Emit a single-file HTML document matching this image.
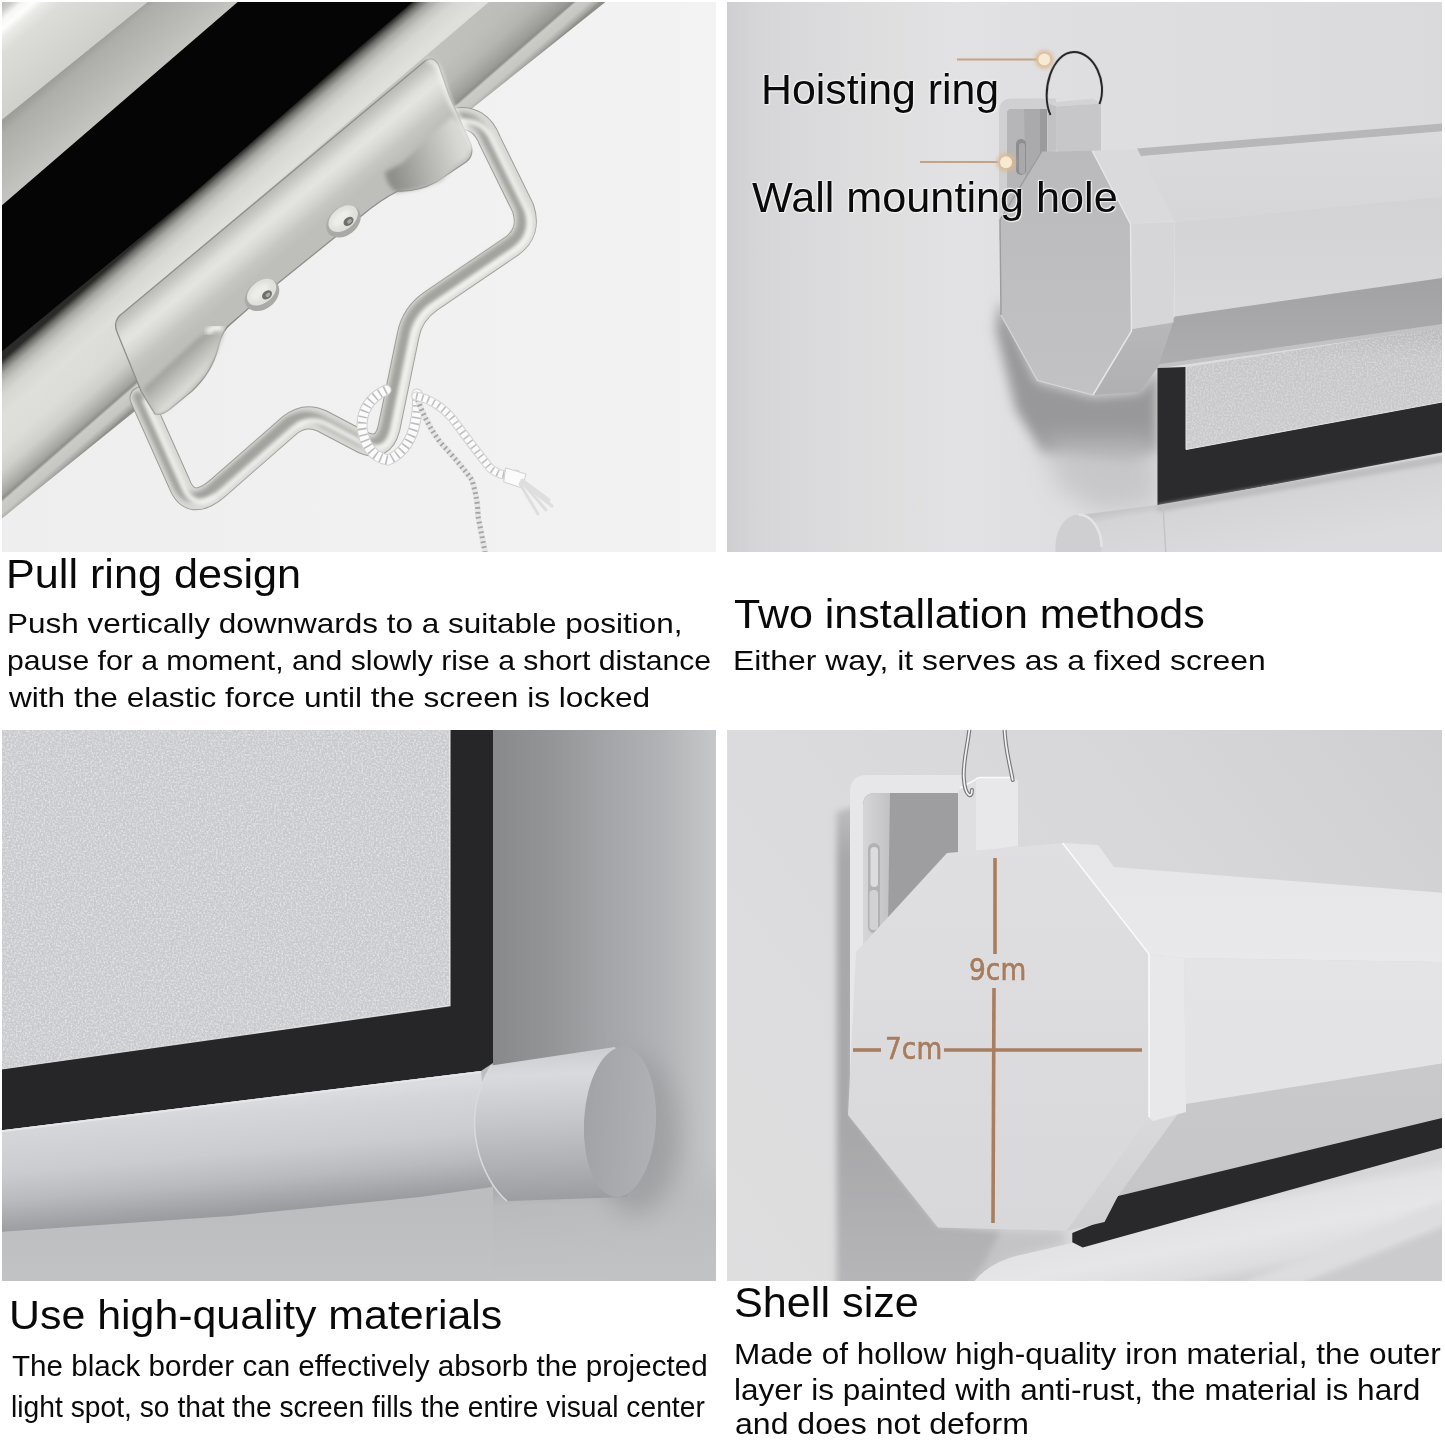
<!DOCTYPE html>
<html><head><meta charset="utf-8">
<style>
html,body{margin:0;padding:0;background:#fff;}
body{width:1445px;height:1445px;position:relative;overflow:hidden;font-family:"Liberation Sans",Arial,sans-serif;color:#0a0a0a;}
svg{position:absolute;left:0;top:0;}
.t{position:absolute;white-space:nowrap;transform-origin:0 0;line-height:1;}
.halo{text-shadow:0 0 2px #f4f4f4,0 0 2px #f4f4f4,1px 1px 1px #f0f0f0,-1px -1px 1px #f0f0f0;}
.dim{font-family:"DejaVu Sans","Liberation Sans",sans-serif;-webkit-text-stroke:.6px #a2785a;text-shadow:0 0 2px #efe6de;}
</style></head><body>
<svg width="1445" height="1445" viewBox="0 0 1445 1445">
<defs>
<clipPath id="c1"><rect x="2" y="2" width="714" height="550"/></clipPath>
<clipPath id="c2"><rect x="727" y="2" width="715" height="550"/></clipPath>
<clipPath id="c3"><rect x="2" y="730" width="714" height="551"/></clipPath>
<clipPath id="c4"><rect x="727" y="730" width="715" height="551"/></clipPath>
<filter id="bl2" x="-20%" y="-20%" width="140%" height="140%"><feGaussianBlur stdDeviation="2"/></filter>
<filter id="bl3" x="-20%" y="-20%" width="140%" height="140%"><feGaussianBlur stdDeviation="3"/></filter>
<filter id="bl6" x="-30%" y="-30%" width="160%" height="160%"><feGaussianBlur stdDeviation="6"/></filter>
<filter id="bl12" x="-40%" y="-40%" width="180%" height="180%"><feGaussianBlur stdDeviation="12"/></filter>
<linearGradient id="p1bg" x1="0" y1="0" x2="1" y2="0"><stop offset="0" stop-color="#eeeeee"/><stop offset="1" stop-color="#f3f3f3"/></linearGradient>
<linearGradient id="p1a" gradientUnits="userSpaceOnUse" x1="0" y1="0" x2="62" y2="72"><stop offset="0" stop-color="#b2b2ae"/><stop offset=".1" stop-color="#cdcdc9"/><stop offset=".17" stop-color="#f6f6f4"/><stop offset=".25" stop-color="#fdfdfc"/><stop offset=".32" stop-color="#eaeae7"/><stop offset=".45" stop-color="#dcdcd8"/><stop offset="1" stop-color="#cfcfcb"/></linearGradient>
<linearGradient id="p1b" gradientUnits="userSpaceOnUse" x1="62" y1="72" x2="110" y2="128"><stop offset="0" stop-color="#9e9e9a"/><stop offset=".12" stop-color="#adada9"/><stop offset=".6" stop-color="#bcbcb8"/><stop offset="1" stop-color="#cacac6"/></linearGradient>
<linearGradient id="p1bar" gradientUnits="userSpaceOnUse" x1="187" y1="199" x2="268" y2="292"><stop offset="0" stop-color="#2a2a28"/><stop offset="0.04" stop-color="#6e6e6a"/><stop offset="0.09" stop-color="#a6a6a2"/><stop offset="0.15" stop-color="#c4c4c0"/><stop offset="0.22" stop-color="#d6d6d2"/><stop offset="0.35" stop-color="#dfdfdb"/><stop offset="0.55" stop-color="#dcdcd8"/><stop offset="0.68" stop-color="#cfcfcb"/><stop offset="0.76" stop-color="#b8b8b4"/><stop offset="0.82" stop-color="#a4a4a0"/><stop offset="0.85" stop-color="#8e8e8a"/><stop offset="0.87" stop-color="#cbcbc7"/><stop offset="0.94" stop-color="#c6c6c2"/><stop offset="0.98" stop-color="#a6a6a2"/><stop offset="1" stop-color="#8e8e8a"/></linearGradient>
<linearGradient id="p1plate" gradientUnits="userSpaceOnUse" x1="270" y1="190" x2="307" y2="234.5"><stop offset="0" stop-color="#b8b8b4"/><stop offset="0.12" stop-color="#c6c6c2"/><stop offset="0.3" stop-color="#dededa"/><stop offset="0.42" stop-color="#e4e4e1"/><stop offset="0.6" stop-color="#d8d8d4"/><stop offset="0.8" stop-color="#c6c6c2"/><stop offset="1" stop-color="#bebeba"/></linearGradient>
<linearGradient id="p1pocket" gradientUnits="userSpaceOnUse" x1="392" y1="168" x2="462" y2="150"><stop offset="0" stop-color="#8f8f8b"/><stop offset=".45" stop-color="#b2b2ae"/><stop offset="1" stop-color="#d9d9d5"/></linearGradient>
<linearGradient id="p1pocket2" gradientUnits="userSpaceOnUse" x1="168" y1="362" x2="190" y2="386"><stop offset="0" stop-color="#989894"/><stop offset=".5" stop-color="#bcbcb8"/><stop offset="1" stop-color="#dcdcd8"/></linearGradient>
<linearGradient id="p2bg" gradientUnits="userSpaceOnUse" x1="727" y1="0" x2="1445" y2="0"><stop offset="0" stop-color="#cfcfd1"/><stop offset=".045" stop-color="#d6d6d8"/><stop offset=".1" stop-color="#d9d9db"/><stop offset=".21" stop-color="#dededf"/><stop offset=".32" stop-color="#e2e2e4"/><stop offset=".45" stop-color="#dfdfe1"/><stop offset="1" stop-color="#dadadc"/></linearGradient>
<linearGradient id="p2ub" x1="0" y1="0" x2="0" y2="1"><stop offset="0" stop-color="#dbdbdd"/><stop offset="1" stop-color="#d6d6d8"/></linearGradient>
<linearGradient id="p2ff" x1="0" y1="0" x2="0" y2="1"><stop offset="0" stop-color="#d3d3d5"/><stop offset="1" stop-color="#d8d8da"/></linearGradient>
<linearGradient id="p2lb" x1="0" y1="0" x2="0" y2="1"><stop offset="0" stop-color="#a2a2a4"/><stop offset="1" stop-color="#aeaeb0"/></linearGradient>
<linearGradient id="p2lr" x1="0" y1="0" x2="0" y2="1"><stop offset="0" stop-color="#b8b8ba"/><stop offset="1" stop-color="#b0b0b2"/></linearGradient>
<linearGradient id="p2face" x1="0" y1="0" x2="0" y2="1"><stop offset="0" stop-color="#bababc"/><stop offset="1" stop-color="#c2c2c4"/></linearGradient>
<linearGradient id="p2scr" x1="0" y1="0" x2="0" y2="1"><stop offset="0" stop-color="#b9b9bb"/><stop offset="0.25" stop-color="#c6c6c8"/><stop offset="1" stop-color="#cacacc"/></linearGradient>
<linearGradient id="p2bar" gradientUnits="userSpaceOnUse" x1="1250" y1="488" x2="1262" y2="556"><stop offset="0" stop-color="#c6c6c8"/><stop offset="0.12" stop-color="#d4d4d6"/><stop offset="1" stop-color="#dcdcde"/></linearGradient>
<filter id="noise" x="0" y="0" width="100%" height="100%"><feTurbulence type="fractalNoise" baseFrequency="0.55" numOctaves="2" seed="3" result="n"/><feColorMatrix in="n" type="matrix" values="0 0 0 0 1  0 0 0 0 1  0 0 0 0 1  2.6 0 0 0 -1.0"/><feComposite operator="in" in2="SourceGraphic"/></filter>
<linearGradient id="p3wall" gradientUnits="userSpaceOnUse" x1="493" y1="0" x2="716" y2="0"><stop offset="0" stop-color="#88898b"/><stop offset=".25" stop-color="#939496"/><stop offset=".5" stop-color="#a3a4a7"/><stop offset=".75" stop-color="#b1b2b5"/><stop offset=".9" stop-color="#bebfc1"/><stop offset="1" stop-color="#c6c7c9"/></linearGradient>
<linearGradient id="p3below" gradientUnits="userSpaceOnUse" x1="0" y1="1150" x2="0" y2="1282"><stop offset="0" stop-color="#bcbdbf" stop-opacity="0"/><stop offset=".42" stop-color="#bcbdbf" stop-opacity=".95"/><stop offset="1" stop-color="#c2c3c5" stop-opacity="1"/></linearGradient>
<linearGradient id="p3bar" gradientUnits="userSpaceOnUse" x1="240" y1="1101" x2="250" y2="1214"><stop offset="0" stop-color="#dbdcdf"/><stop offset="0.1" stop-color="#d5d6d9"/><stop offset="0.45" stop-color="#cbccd0"/><stop offset="0.7" stop-color="#b9babd"/><stop offset="0.9" stop-color="#a3a4a7"/><stop offset="1" stop-color="#999a9d"/></linearGradient>
<linearGradient id="p3cap" gradientUnits="userSpaceOnUse" x1="550" y1="1052" x2="556" y2="1200"><stop offset="0" stop-color="#cdced1"/><stop offset=".15" stop-color="#d9dadd"/><stop offset=".45" stop-color="#c6c7ca"/><stop offset=".75" stop-color="#b0b1b4"/><stop offset="1" stop-color="#9c9da0"/></linearGradient>
<linearGradient id="p3face" x1="0" y1="0" x2="1" y2="0"><stop offset="0" stop-color="#a2a3a6"/><stop offset="1" stop-color="#b0b1b4"/></linearGradient>
<linearGradient id="p4bg" gradientUnits="userSpaceOnUse" x1="727" y1="1284" x2="1445" y2="728"><stop offset="0" stop-color="#dededf"/><stop offset="0.3" stop-color="#dcdcde"/><stop offset="0.7" stop-color="#d7d7d9"/><stop offset="1" stop-color="#cfcfd1"/></linearGradient>
<linearGradient id="p4bar" gradientUnits="userSpaceOnUse" x1="1200" y1="1205" x2="1215" y2="1284"><stop offset="0" stop-color="#d6d6d8"/><stop offset="0.15" stop-color="#e2e2e4"/><stop offset="0.5" stop-color="#e6e6e8"/><stop offset="0.85" stop-color="#dddddf"/><stop offset="1" stop-color="#d0d0d2"/></linearGradient>
<linearGradient id="p4brin" x1="0" y1="0" x2="1" y2="0"><stop offset="0" stop-color="#d6d6d8"/><stop offset="1" stop-color="#c2c2c4"/></linearGradient>
<linearGradient id="p4ub" x1="0" y1="0" x2="0" y2="1"><stop offset="0" stop-color="#e6e6e8"/><stop offset="1" stop-color="#e9e9eb"/></linearGradient>
<linearGradient id="p4ff" x1="0" y1="0" x2="0" y2="1"><stop offset="0" stop-color="#e4e4e6"/><stop offset="1" stop-color="#e3e3e5"/></linearGradient>
<linearGradient id="p4lb" x1="0" y1="0" x2="0" y2="1"><stop offset="0" stop-color="#c9c9cb"/><stop offset="1" stop-color="#c6c6c8"/></linearGradient>
<linearGradient id="p4lr" x1="0" y1="0" x2="0" y2="1"><stop offset="0" stop-color="#dadadc"/><stop offset="1" stop-color="#cfcfd1"/></linearGradient>
<linearGradient id="p4face" x1="0" y1="0" x2="0" y2="1"><stop offset="0" stop-color="#dfdfe1"/><stop offset="1" stop-color="#d8d8da"/></linearGradient>
<linearGradient id="p4sh" gradientUnits="userSpaceOnUse" x1="0" y1="800" x2="0" y2="1284"><stop offset="0" stop-color="#c0c0c2"/><stop offset=".12" stop-color="#a8a8aa"/><stop offset=".7" stop-color="#a8a8aa"/><stop offset="1" stop-color="#b6b6b8"/></linearGradient><linearGradient id="p1barov" gradientUnits="userSpaceOnUse" x1="60" y1="420" x2="560" y2="20"><stop offset="0" stop-color="#8c8c88" stop-opacity="0"/><stop offset=".35" stop-color="#8c8c88" stop-opacity=".05"/><stop offset=".7" stop-color="#8c8c88" stop-opacity=".32"/><stop offset="1" stop-color="#8c8c88" stop-opacity=".42"/></linearGradient><filter id="noise2" x="0" y="0" width="100%" height="100%"><feTurbulence type="fractalNoise" baseFrequency="0.5" numOctaves="2" seed="11" result="n"/><feColorMatrix in="n" type="matrix" values="0 0 0 0 .6  0 0 0 0 .6  0 0 0 0 .63  2.6 0 0 0 -1.0"/><feComposite operator="in" in2="SourceGraphic"/></filter><!--DEFS-->
</defs>
<g clip-path="url(#c1)">
<rect x="0" y="0" width="720" height="556" fill="url(#p1bg)"/>
<!-- housing bands -->
<polygon points="0,0 150,0 0,121" fill="url(#p1a)"/>
<polygon points="150,0 241,0 0,208 0,121" fill="url(#p1b)"/>
<!-- bar -->
<polygon points="413,0 608,0 460,118 300,262 140,407 0,520 0,350 187,198 360,46" fill="url(#p1bar)"/>
<polygon points="0.0,418.8 491.2,0.0 577.1,0.0 0.0,493.1" fill="url(#p1barov)"/>
<!-- black fabric -->
<polygon points="240,0 415,0 360,47 187,199 0,353 0,207" fill="#050505"/>
<!-- ring wire (behind plate parts) -->
<g fill="none" stroke-linecap="round" stroke-linejoin="round">
<path d="M455,119 Q480,115 490,141 L523,208 Q531,232 512,246 L431,301 Q412,314 408,336 L389,428 Q383,452 362,442 L322,421 Q305,413 290,425 L218,488 Q190,512 179,483 L141,398" stroke="#9c9c98" stroke-width="23"/>
<path d="M455,119 Q480,115 490,141 L523,208 Q531,232 512,246 L431,301 Q412,314 408,336 L389,428 Q383,452 362,442 L322,421 Q305,413 290,425 L218,488 Q190,512 179,483 L141,398" stroke="#d8d8d4" stroke-width="21"/>
<path d="M216,490 L291,424" stroke="#b0b0ac" stroke-width="13" filter="url(#bl2)"/>
<path d="M511,245 L431,300" stroke="#bcbcb8" stroke-width="9" filter="url(#bl2)" transform="translate(-1,-3)"/>
<path d="M455,119 Q480,115 490,141 L523,208 Q531,232 512,246 L431,301 Q412,314 408,336 L389,428 Q383,452 362,442 L322,421 Q305,413 290,425 L218,488 Q190,512 179,483 L141,398" stroke="#a2a29e" stroke-width="10" filter="url(#bl2)" transform="translate(-3,-1.5)"/>
<path d="M455,119 Q480,115 490,141 L523,208 Q531,232 512,246 L431,301 Q412,314 408,336 L389,428 Q383,452 362,442 L322,421 Q305,413 290,425 L218,488 Q190,512 179,483 L141,398" stroke="#f7f7f5" stroke-width="5" filter="url(#bl2)" transform="translate(4.5,3)"/>
</g>
<!-- clip plate -->
<path d="M155,414 L141,391 L117,332 Q112,320 124,312 L425,61 Q434,55 439,66 L449,95 L460,120 L471,145 Q474,156 466,162 L436,182 Q418,192 398,191 Q380,200 360,217 L277,284 L228,326 Q220,336 218,348 Q212,372 192,391 L170,409 Q161,416 155,414 Z" fill="url(#p1plate)" stroke="#8e8e8a" stroke-width="1.3"/>
<!-- plate shading -->
<path d="M385,172 L402,163 L427,139 L452,117 L463,125 L472,148 Q470,158 455,166 L441,181 L416,189 L396,192 Q386,185 385,172 Z" fill="url(#p1pocket)" filter="url(#bl2)"/>
<path d="M143,389 L197,339 L214,327 L224,332 L217,352 L206,372 L187,393 L167,411 L157,415 Z" fill="url(#p1pocket2)" filter="url(#bl2)"/>
<path d="M427,60 Q437,62 440,72 L450,102 L463,124 L473,149" stroke="#fbfbfa" stroke-width="3" fill="none" filter="url(#bl2)" opacity=".95"/>
<path d="M207,333 Q216,324 222,330" stroke="#fbfbfa" stroke-width="6" fill="none" filter="url(#bl2)" opacity=".9"/>
<!-- screws -->
<g transform="translate(343.5,221.5) rotate(-38)"><ellipse rx="19" ry="14" fill="#a9a9a5"/><ellipse cx="1.5" cy="-2.5" rx="16.5" ry="11" fill="#dfdfdc"/><ellipse cx="0" cy="-4" rx="12" ry="6" fill="#ededea" filter="url(#bl2)"/><ellipse cx="4" cy="3" rx="5.5" ry="4" fill="#6f6f6b"/><ellipse cx="4.8" cy="3.6" rx="2.6" ry="1.8" fill="#a9a9a5"/></g>
<g transform="translate(262,295) rotate(-38)"><ellipse rx="19" ry="14" fill="#a9a9a5"/><ellipse cx="1.5" cy="-2.5" rx="16.5" ry="11" fill="#dfdfdc"/><ellipse cx="0" cy="-4" rx="12" ry="6" fill="#ededea" filter="url(#bl2)"/><ellipse cx="4" cy="3" rx="5.5" ry="4" fill="#6f6f6b"/><ellipse cx="4.8" cy="3.6" rx="2.6" ry="1.8" fill="#a9a9a5"/></g>
<!-- rope -->
<g fill="none" stroke-linecap="round">
<path d="M386,390 Q361,402 362,428 Q366,456 388,460 Q407,452 414,428 Q419,408 417,394" stroke="#cfcfcf" stroke-width="11"/>
<path d="M386,390 Q361,402 362,428 Q366,456 388,460 Q407,452 414,428 Q419,408 417,394" stroke="#fbfbfb" stroke-width="9"/>
<path d="M386,390 Q361,402 362,428 Q366,456 388,460 Q407,452 414,428 Q419,408 417,394" stroke="#bdbdbd" stroke-width="9" stroke-dasharray="1.6 4.4" stroke-linecap="butt"/>
<path d="M416,395 Q424,420 440,442 Q462,466 472,480 Q478,500 478,516 L485,552" stroke="#e6e6e6" stroke-width="6"/>
<path d="M416,395 Q424,420 440,442 Q462,466 472,480 Q478,500 478,516 L485,552" stroke="#a4a4a4" stroke-width="5" stroke-dasharray="1.8 3.2" stroke-linecap="butt"/>
<path d="M416,396 Q436,400 452,418 Q474,448 490,468 Q502,478 516,474" stroke="#d4d4d4" stroke-width="9"/>
<path d="M416,396 Q436,400 452,418 Q474,448 490,468 Q502,478 516,474" stroke="#fbfbfb" stroke-width="7"/>
<path d="M416,396 Q436,400 452,418 Q474,448 490,468 Q502,478 516,474" stroke="#c0c0c0" stroke-width="7" stroke-dasharray="1.6 4.4" stroke-linecap="butt"/>
<path d="M506,468 L526,474 L522,488 L504,482 Z" fill="#fbfbfb" stroke="#cfcfcf" stroke-width="1"/>
<path d="M522,480 L549,500 M522,482 L546,510 M520,484 L538,514 M521,482 L552,506" stroke="#dedede" stroke-width="3"/>
</g>
</g>

<g clip-path="url(#c2)">
<rect x="727" y="0" width="720" height="556" fill="url(#p2bg)"/>
<!-- shadow under octagon -->
<path d="M1000,300 L1037,381 L1093,396 L1140,392 L1157.5,368 L1157.5,450 L1130,462 L1085,458 L1042,452 L1016,410 L996,330 Z" fill="#98989a" filter="url(#bl6)"/>
<path d="M1040,440 L1157.5,440 L1157.5,505 L1100,512 L1060,490 Z" fill="#c2c2c4" filter="url(#bl12)" opacity=".8"/>
<!-- bracket -->
<path d="M999,240 L999,112 Q999,98.5 1012,98.5 L1056,98.5 L1056,160 L1001,240 Z" fill="#d0d0d2"/>
<path d="M1007,230 L1007,114 Q1007,109 1012,109 L1047,109 L1047,160 Z" fill="#aaaaac"/>
<path d="M1007,230 L1007,114 Q1007,109 1012,109 L1024,109 L1026,200 Z" fill="#b6b6b8"/>
<rect x="1040" y="109" width="7" height="50" fill="#9b9b9d"/>
<rect x="1016" y="139" width="10" height="36" rx="5" fill="#8e8e90"/>
<rect x="1019" y="143" width="6" height="31" rx="3" fill="#a9a9ab"/>
<!-- hoist block -->
<polygon points="1047.5,103 1056.7,106.6 1056.7,150 1047.5,152" fill="#c2c2c4"/>
<polygon points="1047.5,103 1093,98.5 1101,103.5 1056.7,106.6" fill="#d3d3d5"/>
<polygon points="1056.7,106.6 1101,103.5 1101,151 1056.7,151" fill="#c7c7c9"/>
<!-- ring -->
<path d="M1050.5,115 C1040,92 1052,52 1074,52 C1094,52 1108,82 1099.5,104" fill="none" stroke="#c8c8c8" stroke-width="3.2"/>
<path d="M1050.5,115 C1040,92 1052,52 1074,52 C1094,52 1108,82 1099.5,104" fill="none" stroke="#262628" stroke-width="1.9"/>
<!-- housing -->
<polygon points="1137,148.6 1445,123.2 1445,131.5 1141,156.5" fill="#b7b7b9"/>
<polygon points="1141,156 1445,131 1445,196.5 1175,222.5" fill="url(#p2ub)"/>
<polygon points="1175,222.5 1445,196.5 1445,277.5 1175,316.5" fill="url(#p2ff)"/>
<polygon points="1175,316.5 1445,277.5 1445,327 1157,368 1150,345" fill="url(#p2lb)"/>
<polygon points="1157,364.5 1445,323.5 1445,327.5 1157,368.5" fill="#c2c2c4"/>
<!-- screen -->
<polygon points="1184,367.5 1445,327 1445,402 1184,450" fill="url(#p2scr)"/><polygon points="1184,367.5 1445,327 1445,402 1184,450" fill="#fff" filter="url(#noise)" opacity=".3"/>
<polygon points="1157.5,368 1186,367 1186,449.5 1445,401.5 1445,452 1157.5,506.5" fill="#2b2b2d"/>
<polyline points="1186,367 1186,449.5 1445,401.5" fill="none" stroke="#e8e8e8" stroke-width="1"/>
<!-- bottom bar -->
<path d="M1079,515 L1157.5,505 L1445,455 L1445,560 L1056,560 Q1052,520 1079,515 Z" fill="url(#p2bar)"/>
<polygon points="1157.5,505.5 1445,455.5 1445,462 1157.5,512" fill="#bcbcbe" filter="url(#bl2)"/>
<ellipse cx="1078.5" cy="547" rx="23" ry="32.5" fill="#cfcfd1"/>
<path d="M1101.5,547 A23,32.5 0 0 0 1078.5,514.5" fill="none" stroke="#e4e4e6" stroke-width="2.5"/>
<line x1="1163" y1="506" x2="1166" y2="556" stroke="#c4c4c6" stroke-width="1.5"/>
<!-- end cap -->
<polygon points="1131.5,329 1173,322 1175,316.5 1158,367 1140,392 1093,395" fill="url(#p2lr)"/>
<polygon points="1092.3,150.8 1137,149.3 1174.6,220.5 1130.5,224" fill="#dadadc"/>
<polygon points="1130.5,224 1174.6,222 1173.5,322.5 1131.5,329" fill="#d6d6d8"/>
<polygon points="1041.7,151.5 1092.3,150.8 1130.5,224 1131.5,331 1093,395 1037.5,380.5 1001,315 1000,220" fill="url(#p2face)"/>
<polyline points="1092.3,150.8 1130.5,224 1131.5,331 1093,395" fill="none" stroke="#e6e6e8" stroke-width="1.5"/>
<polyline points="1041.7,151.5 1000,220 1001,315" fill="none" stroke="#9c9c9e" stroke-width="1.4"/>
<polyline points="1001,315 1037.5,380.5 1093,395" fill="none" stroke="#d6d6d8" stroke-width="1.2"/>
<!-- callouts -->
<line x1="957" y1="59.5" x2="1037" y2="59.5" stroke="#c4a284" stroke-width="1.8"/>
<circle cx="1044.3" cy="59.5" r="9" fill="#dcb890" filter="url(#bl2)"/><circle cx="1044.3" cy="59.5" r="6" fill="#f6ead2"/>
<line x1="920" y1="162" x2="998" y2="162" stroke="#c4a284" stroke-width="1.8"/>
<circle cx="1006" cy="162.3" r="9" fill="#dcb890" filter="url(#bl2)"/><circle cx="1006" cy="162.3" r="6" fill="#f6ead2"/>
</g>

<g clip-path="url(#c3)">
<rect x="0" y="728" width="720" height="556" fill="#bdbec0"/>
<rect x="493" y="728" width="227" height="556" fill="url(#p3wall)"/>
<rect x="0" y="1140" width="720" height="145" fill="url(#p3below)"/>
<!-- screen -->
<polygon points="0,728 450,728 450,1005.7 0,1069.3" fill="#c8c9cd"/>
<polygon points="0,728 450,728 450,1005.7 0,1069.3" fill="#fff" filter="url(#noise)" opacity=".5"/><polygon points="0,728 450,728 450,1005.7 0,1069.3" fill="#9c9da2" filter="url(#noise2)" opacity=".35"/>
<!-- black frame -->
<polygon points="450,728 493,728 493,1063 481,1071 0,1130.5 0,1069.3 450,1005.7" fill="#262628"/>
<polyline points="0,1069.3 450,1005.7 450,728" fill="none" stroke="#f4f4f4" stroke-width="1.2" opacity=".8"/>
<!-- bar -->
<polygon points="0,1130.5 481,1071 492,1187 420,1197 300,1209 230,1216 0,1232" fill="url(#p3bar)"/>
<polyline points="0,1131.5 481,1072" fill="none" stroke="#e6e7e9" stroke-width="2"/>
<!-- cap shadow on wall -->
<ellipse cx="636" cy="1135" rx="42" ry="80" fill="#9a9b9e" filter="url(#bl12)" opacity=".75"/>
<!-- cap body -->
<path d="M491.5,1065.5 L615,1047 L650,1120 L627,1197 L507,1201 C484,1182 456,1122 491.5,1065.5 Z" fill="url(#p3cap)"/>
<path d="M491.5,1065.5 C456,1122 484,1182 507,1201" fill="none" stroke="#d9dadc" stroke-width="1.5"/>
<!-- cap face -->
<ellipse cx="620" cy="1122" rx="36" ry="75" transform="rotate(3 620 1122)" fill="url(#p3face)"/>
</g>

<g clip-path="url(#c4)">
<rect x="727" y="728" width="720" height="556" fill="url(#p4bg)"/>
<!-- shadow of octagon on wall -->
<!-- bottom bar (white) -->
<path d="M940,1226 L1064,1230 L1068,1244 L1010,1262 L975,1290 L930,1290 Z" fill="#c4c4c6" filter="url(#bl6)"/>
<path d="M836.5,812 L836.5,1290 L965,1290 L985,1262 L1000,1232 L939,1226 L852,1114 L856,950 L856,806 Z" fill="url(#p4sh)" filter="url(#bl3)"/>
<path d="M972,1284 Q990,1260 1025,1254 L1072,1243 L1445,1146 L1445,1284 Z" fill="url(#p4bar)"/>
<polygon points="1296,1284 1445,1222 1445,1284" fill="#cbcbcd"/><polygon points="1240,1284 1445,1200 1445,1226 1300,1284" fill="#dddddf" filter="url(#bl3)"/>
<!-- bracket -->

<path d="M850,990 L850,792 Q850,775 867,775 L965,775 L965,855 L870,990 L870,1100 L850,1100 Z" fill="#e7e7e9"/>
<path d="M863,960 L863,806 Q863,793 876,793 L958,793 L958,856 Z" fill="#9e9ea0"/>
<path d="M863,960 L863,806 Q863,793 876,793 L890,793 L888,925 Z" fill="url(#p4brin)"/>
<rect x="868" y="843" width="12" height="90" rx="6" fill="#b2b2b4"/>
<rect x="870.5" y="847" width="7.5" height="40" rx="3.7" fill="#dcdcde"/>
<rect x="869.5" y="890" width="8.5" height="40" rx="4" fill="#d2d2d4"/>
<!-- hoist block -->
<polygon points="958,790 976,780 976,853 958,853" fill="#dfdfe1"/>
<path d="M976,783 Q976,778 981,778 L1013,778 Q1018,778 1018,783 L1018,846 L976,852 Z" fill="#e8e8ea"/>
<path d="M960,788 L976,779.5 Q977,777.5 981,777.5 L1013,777.5" fill="none" stroke="#fafafa" stroke-width="1.5"/>
<!-- ring -->
<g fill="none" stroke-linecap="round">
<path d="M969.5,728 C968,745 962,765 964,780 C965,795 972,800 972,790" stroke="#77777a" stroke-width="4"/>
<path d="M969.5,728 C968,745 962,765 964,780 C965,795 972,800 972,790" stroke="#f4f4f5" stroke-width="1.7"/>
<path d="M1004.5,728 C1005,748 1010,765 1012.7,780" stroke="#77777a" stroke-width="4"/>
<path d="M1004.5,728 C1005,748 1010,765 1012.7,780" stroke="#f4f4f5" stroke-width="1.7"/>
</g>
<!-- housing -->
<polygon points="1098,845 1114,867 1445,893 1445,962 1184,958 1149,954 1062.5,843" fill="url(#p4ub)"/>
<polygon points="1184,958 1445,962 1445,1063 1186,1104" fill="url(#p4ff)"/>
<polygon points="1186,1104 1445,1063 1445,1121 1118,1196 1149,1118" fill="url(#p4lb)"/>
<!-- black strip -->
<polygon points="1116,1198.5 1118,1196 1445,1117.3 1445,1146.8 1082.7,1247.5 1072.3,1242.3 1072.3,1233 1093,1224.6" fill="#29292b"/>
<!-- cap faces -->
<polygon points="1149,1117 1184,1105.5 1118,1196 1104.5,1222 1066,1231" fill="url(#p4lr)"/>
<polygon points="1149,954 1184,958 1186,1104 1186,1112 1153,1121 1149,1118" fill="#e8e8ea"/>
<polygon points="947,853 1062.5,843 1149,954 1149,1117 1066,1230.5 938,1227.5 848,1115 856,952" fill="url(#p4face)"/>
<polyline points="1062.5,843 1149,954 1149,1117" fill="none" stroke="#fafafa" stroke-width="1.5"/>
<!-- dims -->
<g stroke="#a87e5e" stroke-width="3.6" fill="none">
<line x1="995" y1="858" x2="995" y2="954"/><line x1="994" y1="988" x2="993" y2="1223"/>
<line x1="853" y1="1050" x2="881" y2="1050"/><line x1="944" y1="1050" x2="1142" y2="1050"/>
</g>
</g>

</svg>
<!--TS-->
<div class="t" style="left:5.56px;top:554.14px;font-size:40px;transform:scaleX(1.0791);color:#0a0a0a">Pull ring design</div>
<div class="t" style="left:6.55px;top:610.3px;font-size:28px;transform:scaleX(1.1245);color:#0a0a0a">Push vertically downwards to a suitable position,</div>
<div class="t" style="left:6.65px;top:646.8px;font-size:28px;transform:scaleX(1.0772);color:#0a0a0a">pause for a moment, and slowly rise a short distance</div>
<div class="t" style="left:8.8px;top:683.6px;font-size:28px;transform:scaleX(1.1286);color:#0a0a0a">with the elastic force until the screen is locked</div>
<div class="t" style="left:734.36px;top:593.37px;font-size:41.5px;transform:scaleX(1.0358);color:#0a0a0a">Two installation methods</div>
<div class="t" style="left:733.12px;top:647.1px;font-size:28px;transform:scaleX(1.1386);color:#0a0a0a">Either way, it serves as a fixed screen</div>
<div class="t halo" style="left:761.34px;top:69.05px;font-size:42px;transform:scaleX(1.0202);color:#0a0a0a">Hoisting ring</div>
<div class="t halo" style="left:752.0px;top:177.45px;font-size:42px;transform:scaleX(1.0282);color:#0a0a0a">Wall mounting hole</div>
<div class="t" style="left:9.46px;top:1294.79px;font-size:41px;transform:scaleX(1.0458);color:#0a0a0a">Use high-quality materials</div>
<div class="t" style="left:12.28px;top:1351.65px;font-size:29px;transform:scaleX(1.0209);color:#0a0a0a">The black border can effectively absorb the projected</div>
<div class="t" style="left:11.35px;top:1392.75px;font-size:29px;transform:scaleX(0.9738);color:#0a0a0a">light spot, so that the screen fills the entire visual center</div>
<div class="t" style="left:733.94px;top:1281.85px;font-size:42px;transform:scaleX(1.0284);color:#0a0a0a">Shell size</div>
<div class="t" style="left:733.82px;top:1339.95px;font-size:29px;transform:scaleX(1.0881);color:#0a0a0a">Made of hollow high-quality iron material, the outer</div>
<div class="t" style="left:733.82px;top:1376.15px;font-size:29px;transform:scaleX(1.089);color:#0a0a0a">layer is painted with anti-rust, the material is hard</div>
<div class="t" style="left:734.9px;top:1410.45px;font-size:29px;transform:scaleX(1.1049);color:#0a0a0a">and does not deform</div>
<div class="t dim" style="left:969.23px;top:955.4px;font-size:30px;transform:scaleX(0.8833);color:#a97c5c">9cm</div>
<div class="t dim" style="left:885.23px;top:1034px;font-size:30px;transform:scaleX(0.8833);color:#a97c5c">7cm</div>
<!--TE-->
</body></html>
